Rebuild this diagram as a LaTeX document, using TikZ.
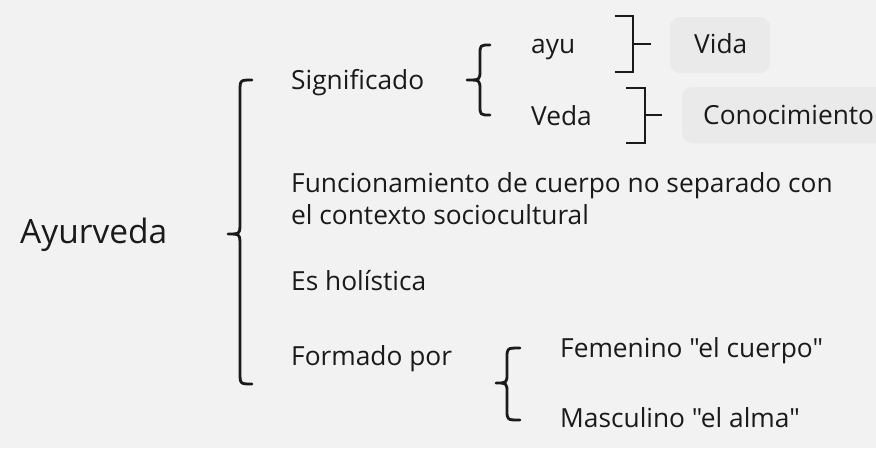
\documentclass[tikz,border=0pt]{standalone}
\usepackage{fontspec}
\newfontfamily\ofont{Open Sans}[Ligatures={NoCommon}]
\definecolor{bg}{HTML}{F2F2F2}
\definecolor{boxfill}{HTML}{EAEAEA}
\definecolor{ink}{HTML}{1A1A1A}
\begin{document}
\begin{tikzpicture}[x=1pt,y=-1pt,
  lbl/.style={anchor=base west,inner sep=0pt,text=ink,font=\ofont\fontsize{26.3}{31}\selectfont},
  big/.style={anchor=base west,inner sep=0pt,text=ink,font=\ofont\fontsize{33.5}{38}\selectfont},
  tagbox/.style={fill=boxfill,rounded corners=10pt,draw=none},
  brc/.style={draw=ink,line width=2.8pt,line cap=round,line join=round},
  sq/.style={draw=ink,line width=2.8pt,line join=miter}]
\fill[bg] (0,0) rectangle (876,448);
\useasboundingbox (0,0) rectangle (876,448);
% tag boxes
\fill[tagbox] (670,17) rectangle (770,73);
\fill[tagbox] (682,87) rectangle (900,143);
% texts
\node[big] (ayurveda) at (20,243) {Ayurveda};
\node[lbl] (signif) at (291,89) {Significado};
\node[lbl] (ayu) at (531,53) {ayu};
\node[lbl] (veda) at (531,125) {Veda};
\node[lbl] (vida) at (694,53) {Vida};
\node[lbl] (conoc) at (703,124) {Conocimiento};
\node[lbl] (func1) at (291,192) {Funcionamiento de cuerpo no separado con};
\node[lbl] (func2) at (291,224) {el contexto sociocultural};
\node[lbl] (holis) at (291,290) {Es holística};
\node[lbl] (formado) at (291,365) {Formado por};
\node[lbl] (fem) at (560,357) {Femenino "el cuerpo"};
\node[lbl] (masc) at (560,427) {Masculino "el alma"};
% big brace
\draw[brc] (252,80) .. controls (240,80) .. (240,92) -- (240,222)
  .. controls (240,234) .. (228,234) .. controls (240,234) .. (240,246)
  -- (240,372) .. controls (240,384) .. (252,384);
% brace Significado
\draw[brc] (490,45) .. controls (480,45) .. (480,55) -- (480,70)
  .. controls (480,80) .. (467,80) .. controls (480,80) .. (480,90)
  -- (480,105) .. controls (480,115) .. (490,115);
% brace Formado
\draw[brc] (520,348) .. controls (507,348) .. (507,358) -- (507,373)
  .. controls (507,383) .. (496,383) .. controls (507,383) .. (507,393)
  -- (507,410) .. controls (507,420) .. (520,420);
% square brackets
\draw[sq] (615,16) -- (633,16) -- (633,72) -- (615,72);
\draw[sq] (633,44) -- (651,44);
\draw[sq] (626,88) -- (645,88) -- (645,143) -- (626,143);
\draw[sq] (645,115) -- (662,115);
\end{tikzpicture}
\end{document}
